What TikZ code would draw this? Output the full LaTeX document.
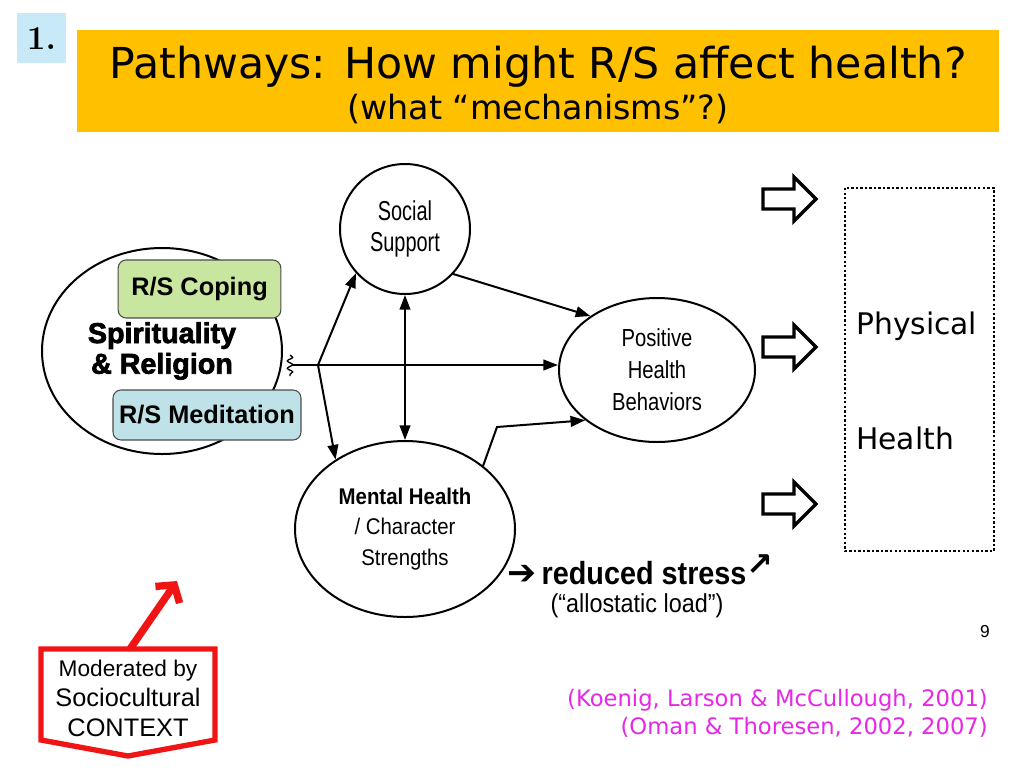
\documentclass[tikz,border=0pt]{standalone}
\usepackage{fontspec}
\newfontfamily\arial{Liberation Sans}
\newfontfamily\verd{DejaVu Sans}
\newfontfamily\narrow[FakeStretch=0.73]{Liberation Sans}
\newfontfamily\semnarrow[FakeStretch=0.82]{Liberation Sans}
\newfontfamily\midnarrow[FakeStretch=0.9]{Liberation Sans}
\newfontfamily\heavy[FakeBold=2.5]{Liberation Sans}
\usetikzlibrary{shapes.geometric,arrows.meta,decorations.pathmorphing}
\definecolor{numbg}{RGB}{200,234,248}
\definecolor{titlebg}{RGB}{255,192,0}
\definecolor{copebg}{RGB}{200,230,160}
\definecolor{medbg}{RGB}{190,226,232}
\definecolor{cite}{RGB}{230,40,230}
\definecolor{ctxred}{RGB}{240,20,20}
\newcommand{\fsz}[2]{\fontsize{#1}{#2}\selectfont}

\begin{document}
\begin{tikzpicture}[x=0.75pt,y=-0.75pt,
        every node/.style={font=\arial},
        bub/.style={draw,line width=1.5pt,ellipse,inner sep=0pt,align=center},
        tag/.style={draw=black!70,line width=0.8pt,rounded corners=6pt,inner sep=0pt,font=\arial\bfseries\fsz{19}{22}},
        link/.style={line width=1.5pt,-{Triangle[length=11pt,width=8pt]}},
        blockarr/.style={line width=2.5pt,line join=miter}]
    \useasboundingbox (0,0) rectangle (1024,768);
    % heading
    \fill[numbg] (17,13) rectangle (66,63);
    \node (num) at (41.5,39) {\rmfamily\bfseries\fsz{25}{25}1.};
    \fill[titlebg] (77,30) rectangle (999,132);
    \node (ttl) at (538,67) {\verd\fsz{32}{36}Pathways: How might R/S affect health?};
    \node (sub) at (538,109) {\verd\fsz{25}{28}(what “mechanisms”?)};
    % model
    \node[bub,minimum width=180pt,minimum height=154.5pt,font=\heavy\bfseries\fsz{21.5}{23}] (sr) at (162,351) {Spirituality\\\& Religion};
    \node[tag,fill=copebg,minimum width=122pt,minimum height=43.5pt] (cope) at (199.5,289) {R/S Coping};
    \node[tag,fill=medbg,minimum width=141pt,minimum height=37.5pt] (med) at (207,415) {R/S Meditation};
    \node[bub,circle,minimum size=97.5pt,font=\narrow\fsz{20.5}{23.5}] (soc) at (405,229) {Social\\Support};
    \node[bub,minimum width=147pt,minimum height=108pt,font=\semnarrow\fsz{18.5}{24}] (phb) at (657,370) {Positive\\Health\\Behaviors};
    \node[bub,minimum width=165pt,minimum height=132pt,font=\midnarrow\fsz{17}{23}] (mh) at (405,529) {{\bfseries Mental Health}\\/ Character\\Strengths};
    \coordinate (sq) at (292,365);
    \coordinate (j) at (318,365);
    \draw[line width=1pt,decorate,decoration={snake,amplitude=2pt,segment length=5.5pt}] (290,355) -- (290,376);
    \draw[line width=1.5pt] (sq) -- (j);
    \draw[link] (j) -- (soc.222);
    \draw[link] (j) -- (j -| phb.west);
    \draw[link] (j) -- (mh.135);
    \draw[line width=1.5pt,{Triangle[length=11pt,width=8pt]}-{Triangle[length=11pt,width=8pt]}] (soc.south) -- (mh.north);
    \draw[link] (soc.-43) -- (phb.141);
    \draw[link] (mh.39) -- (497,427) -- (phb.215);
    % stress
    \node[anchor=base west,inner sep=0pt] (rs) at (507,584) {{\verd\fsz{26}{26}➔}\hspace{4pt}{\midnarrow\bfseries\fsz{24}{28}reduced stress}{\verd\bfseries\fsz{24}{24}\raisebox{0.5ex}{↗}}};
    \node[font=\midnarrow\fsz{19.5}{22},inner sep=0pt] (al) at (637,606) {(“allostatic load”)};
    % outcome
    \foreach \y in {199,347,504}{
        \draw[blockarr] (763,\y-10) -- (794,\y-10) -- (794,\y-22) -- (816,\y) -- (794,\y+22) -- (794,\y+10) -- (763,\y+10) -- cycle;
    }
    \draw[line width=2.2pt,dash pattern=on 1.8pt off 1.6pt] (845,188) rectangle (994,551);
    \node[anchor=west,inner sep=0pt] (phys) at (856,326) {\verd\fsz{22.3}{26}Physical};
    \node[anchor=west,inner sep=0pt] (hlth) at (856,438) {\verd\fsz{22.3}{26}Health};
    \node (pg) at (985,632) {\fsz{13}{15}9};
    % context
    \draw[ctxred,line width=4pt,line join=miter] (41,649) -- (215,649) -- (215,740) -- (128,756) -- (41,740) -- cycle;
    \node[align=center,inner sep=0pt,font=\arial\fsz{19}{22.5}] (ctx) at (128,698) {{\fsz{17}{22.5}Moderated by}\\Sociocultural\\CONTEXT};
    \coordinate (ctxtop) at (130,649);
    \coordinate (tip) at (177,581);
    \draw[ctxred,line width=5.5pt,-{Straight Barb[length=9pt,width=22pt]}] (ctxtop) -- (tip);
    % refs
    \node[anchor=east,text=cite,inner sep=0pt] (ref1) at (988,700) {\verd\fsz{17}{20}(Koenig, Larson \& McCullough, 2001)};
    \node[anchor=east,text=cite,inner sep=0pt] (ref2) at (988,727) {\verd\fsz{17}{20}(Oman \& Thoresen, 2002, 2007)};
\end{tikzpicture}
\end{document}
